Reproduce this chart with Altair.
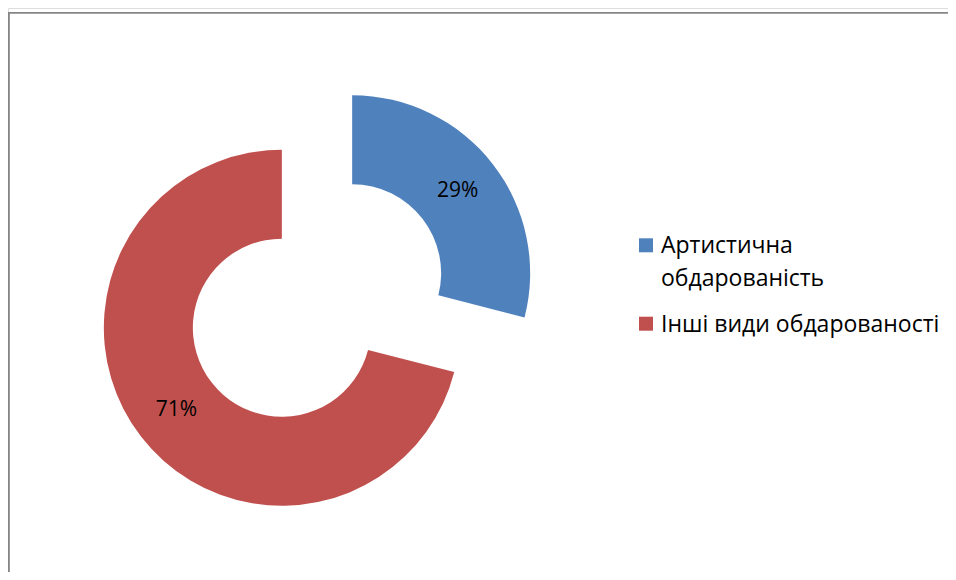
import altair as alt
import pandas as pd

categories = ["Артистична обдарованість", "Інші види обдарованості"]
values = [29, 71]
colors = ["#4F81BD", "#C0504D"]
label_texts = ["29%", "71%"]
legend_lines = ["Артистична\nобдарованість", "Інші види обдарованості"]

df = pd.DataFrame({
    "category": categories,
    "value": values,
    "order": list(range(len(categories))),
    "label": label_texts,
    "legend": legend_lines,
})

W, H = 940, 564
CX, CY = 309, 292.5
EXPLODE = 44.5
R_OUT, R_IN = 178, 89
R_MID = (R_OUT + R_IN) / 2
FONT = "Open Sans"

color_scale = alt.Scale(domain=categories, range=colors)

base = alt.Chart(df).transform_joinaggregate(
    total="sum(value)"
).transform_window(
    cum="sum(value)", sort=[alt.SortField("order")], frame=[None, 0]
).transform_calculate(
    start="2*PI*(datum.cum - datum.value)/datum.total",
    end="2*PI*datum.cum/datum.total",
).transform_calculate(
    mid="(datum.start + datum.end)/2"
).transform_calculate(
    cx=f"{CX} + {EXPLODE}*sin(datum.mid)",
    cy=f"{CY} - {EXPLODE}*cos(datum.mid)",
).transform_calculate(
    lx=f"datum.cx + {R_MID}*sin(datum.mid)",
    ly=f"datum.cy - {R_MID}*cos(datum.mid)",
)

arcs = base.mark_arc(radius=R_OUT, radius2=R_IN).encode(
    theta=alt.Theta("start:Q", scale=None, stack=None),
    theta2="end:Q",
    x=alt.X("cx:Q", scale=None),
    y=alt.Y("cy:Q", scale=None),
    color=alt.Color("category:N", scale=color_scale, legend=None),
)

labels = base.mark_text(font=FONT, fontSize=21, color="#000000", align="center", baseline="middle").encode(
    x=alt.X("lx:Q", scale=None),
    y=alt.Y("ly:Q", scale=None),
    text="label:N",
)

# manual legend
leg_layers = []
sq_y = [237.3, 315.7]
txt_y = [244.5, 324]
for i, cat in enumerate(categories):
    sub = alt.Chart(df).transform_filter(alt.datum.category == cat)
    sq = sub.mark_square(size=196, opacity=1).encode(
        x=alt.value(638),
        y=alt.value(sq_y[i]),
        color=alt.Color("category:N", scale=color_scale, legend=None),
    )
    tx = sub.mark_text(font=FONT, fontSize=23, color="#000000", align="left",
                       baseline="alphabetic", lineBreak="\n", lineHeight=33).encode(
        x=alt.value(653),
        y=alt.value(txt_y[i]),
        text="legend:N",
    )
    leg_layers += [sq, tx]

border_top = alt.Chart(df).mark_rule(color="#868686", strokeWidth=1.6).encode(
    x=alt.value(0), x2=alt.value(W), y=alt.value(4.8)
)
border_left = alt.Chart(df).mark_rule(color="#868686", strokeWidth=1.6).encode(
    x=alt.value(0.8), y=alt.value(4.8), y2=alt.value(H)
)

chart = alt.layer(border_top, border_left, arcs, labels, *leg_layers).properties(
    width=W, height=H, autosize=alt.AutoSizeParams(type="none"), padding=0
).configure_view(stroke=None).configure(background="white")

chart.save("out.html", embed_options={"renderer": "svg", "actions": False})
